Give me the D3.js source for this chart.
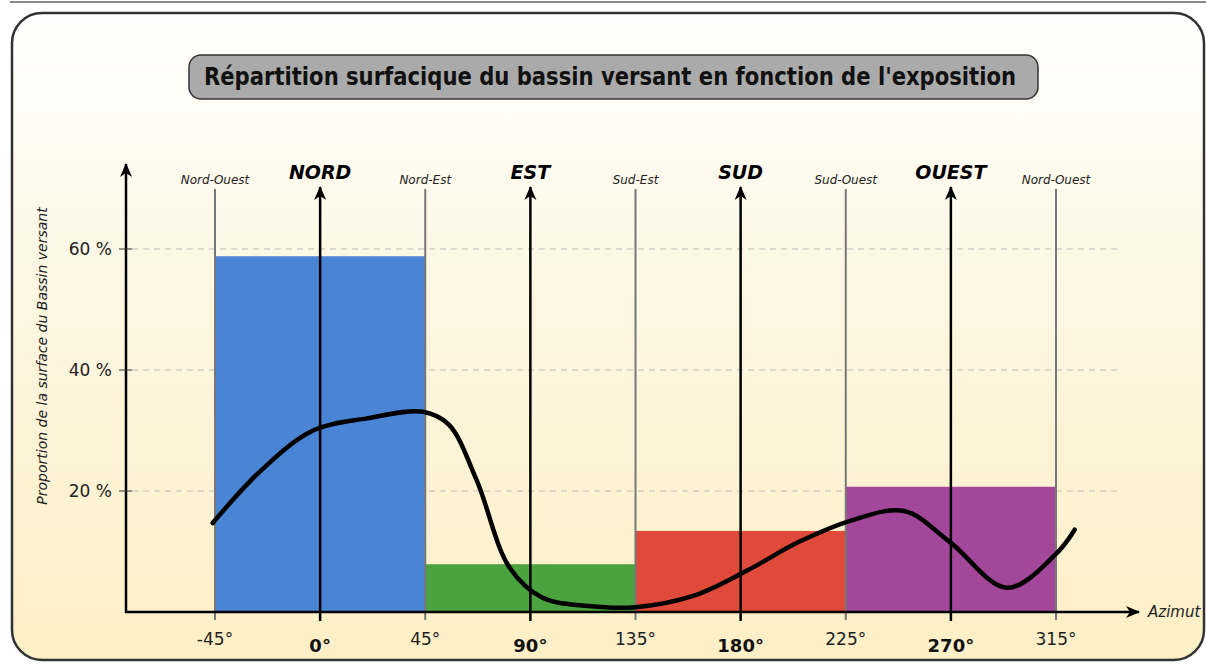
<!DOCTYPE html>
<html>
<head>
<meta charset="utf-8">
<script src="https://cdn.jsdelivr.net/npm/d3@7"></script>
<style>
  body { margin: 0; background: #fff; }
  svg { display: block; }
</style>
</head>
<body>
<div id="chart"></div>
<script>
// exposure sectors (degrees) and share of the basin surface (%)
var sectorStart = [-45, 45, 135, 225];
var sectorEnd = [45, 135, 225, 315];
var sectorValue = [58.8, 7.9, 13.4, 20.7];
var sectorColor = ["#4a84d5", "#4aa33f", "#e04a3b", "#a3479a"];

// cardinal directions (black arrows)
var cardinalAngle = [0, 90, 180, 270];
var cardinalName = ["NORD", "EST", "SUD", "OUEST"];

// intercardinal boundaries (gray lines)
var interAngle = [-45, 45, 135, 225, 315];
var interName = ["Nord-Ouest", "Nord-Est", "Sud-Est", "Sud-Ouest", "Nord-Ouest"];

var yTicks = [20, 40, 60];

// smooth curve
var curveAzimuth = [-46, -25, -3, 20, 44, 55, 67, 81, 95, 115, 135, 160, 183, 205, 228, 250, 269.5, 294, 315, 323];
var curveValue = [14.7, 23.5, 30.0, 32.0, 33.1, 31.0, 21.8, 7.4, 2.4, 1.0, 0.8, 2.7, 6.9, 11.6, 15.2, 16.7, 11.6, 4.0, 9.6, 13.6];

var width = 1206, height = 668;

var svg = d3.select("#chart")
            .append("svg")
            .attr("width", width)
            .attr("height", height);

var defs = svg.append("defs");

var bg = defs.append("linearGradient")
             .attr("id", "bg")
             .attr("x1", 0).attr("y1", 0)
             .attr("x2", 0).attr("y2", 1);
bg.append("stop").attr("offset", "0%").attr("stop-color", "#ffffff");
bg.append("stop").attr("offset", "40%").attr("stop-color", "#fdf7e4");
bg.append("stop").attr("offset", "100%").attr("stop-color", "#fdefc6");

// stealth style arrow head
defs.append("marker")
    .attr("id", "arrow")
    .attr("viewBox", "-14 -7 16 14")
    .attr("markerUnits", "userSpaceOnUse")
    .attr("markerWidth", 16)
    .attr("markerHeight", 14)
    .attr("refX", 0)
    .attr("refY", 0)
    .attr("orient", "auto")
    .append("path")
    .attr("d", "M1,0 L-13,-6 L-9,0 L-13,6 Z")
    .attr("fill", "#000");

// top rule and outer frame
svg.append("line")
   .attr("x1", 10).attr("x2", width)
   .attr("y1", 2).attr("y2", 2)
   .attr("stroke", "#8a8a8a")
   .attr("stroke-width", 2);

svg.append("rect")
   .attr("x", 12).attr("y", 13)
   .attr("width", 1192).attr("height", 647)
   .attr("rx", 30).attr("ry", 30)
   .attr("fill", "url(#bg)")
   .attr("stroke", "#333")
   .attr("stroke-width", 2.5);

// title box
svg.append("rect")
   .attr("x", 189).attr("y", 55)
   .attr("width", 849).attr("height", 44)
   .attr("rx", 12).attr("ry", 12)
   .attr("fill", "#aaaaaa")
   .attr("stroke", "#333")
   .attr("stroke-width", 1.5);

svg.append("text")
   .attr("x", 610).attr("y", 85)
   .attr("text-anchor", "middle")
   .attr("font-family", "DejaVu Sans, sans-serif")
   .attr("font-weight", "bold")
   .attr("font-size", 24)
   .attr("textLength", 812)
   .attr("lengthAdjust", "spacingAndGlyphs")
   .attr("fill", "#111")
   .text("Répartition surfacique du bassin versant en fonction de l'exposition");

// scales
var x = d3.scaleLinear().domain([-45, 315]).range([215, 1056]);
var y = d3.scaleLinear().domain([0, 60]).range([612, 249]);
var x0 = 126;

// dashed grid
svg.selectAll(".grid")
   .data(yTicks)
   .enter()
   .append("line")
   .attr("class", "grid")
   .attr("x1", x0 + 6).attr("x2", 1120)
   .attr("y1", d => y(d)).attr("y2", d => y(d))
   .attr("stroke", "#bdbdbd")
   .attr("stroke-width", 1)
   .attr("stroke-dasharray", "6,5");

// bars
svg.selectAll(".bars")
   .data(sectorValue)
   .enter()
   .append("rect")
   .attr("class", "bars")
   .attr("x", (d, i) => x(sectorStart[i]))
   .attr("width", (d, i) => x(sectorEnd[i]) - x(sectorStart[i]))
   .attr("y", d => y(d))
   .attr("height", d => y(0) - y(d))
   .attr("fill", (d, i) => sectorColor[i]);

// gray intercardinal lines + labels
svg.selectAll(".inter")
   .data(interAngle)
   .enter()
   .append("line")
   .attr("class", "inter")
   .attr("x1", d => x(d)).attr("x2", d => x(d))
   .attr("y1", 620).attr("y2", 189)
   .attr("stroke", "#777")
   .attr("stroke-width", 2);

svg.selectAll(".interLabel")
   .data(interName)
   .enter()
   .append("text")
   .attr("class", "interLabel")
   .attr("x", (d, i) => x(interAngle[i]))
   .attr("y", 184)
   .attr("text-anchor", "middle")
   .attr("font-family", "DejaVu Sans, sans-serif")
   .attr("font-style", "italic")
   .attr("font-size", 12)
   .attr("fill", "#222")
   .text(d => d);

svg.selectAll(".interTick")
   .data(interAngle)
   .enter()
   .append("text")
   .attr("class", "interTick")
   .attr("x", d => x(d))
   .attr("y", 645)
   .attr("text-anchor", "middle")
   .attr("font-family", "DejaVu Sans, sans-serif")
   .attr("font-size", 17)
   .attr("fill", "#222")
   .text(d => d + "°");

// black cardinal arrows + labels
svg.selectAll(".card")
   .data(cardinalAngle)
   .enter()
   .append("line")
   .attr("class", "card")
   .attr("x1", d => x(d)).attr("x2", d => x(d))
   .attr("y1", 621).attr("y2", 187)
   .attr("stroke", "#000")
   .attr("stroke-width", 2.5)
   .attr("marker-end", "url(#arrow)");

svg.selectAll(".cardLabel")
   .data(cardinalName)
   .enter()
   .append("text")
   .attr("class", "cardLabel")
   .attr("x", (d, i) => x(cardinalAngle[i]))
   .attr("y", 179)
   .attr("text-anchor", "middle")
   .attr("font-family", "DejaVu Sans, sans-serif")
   .attr("font-style", "italic")
   .attr("font-weight", "bold")
   .attr("font-size", 19)
   .attr("fill", "#000")
   .text(d => d);

svg.selectAll(".cardTick")
   .data(cardinalAngle)
   .enter()
   .append("text")
   .attr("class", "cardTick")
   .attr("x", d => x(d))
   .attr("y", 652)
   .attr("text-anchor", "middle")
   .attr("font-family", "DejaVu Sans, sans-serif")
   .attr("font-weight", "bold")
   .attr("font-size", 18)
   .attr("fill", "#111")
   .text(d => d + "°");

// axes
svg.append("line")
   .attr("x1", x0).attr("x2", x0)
   .attr("y1", y(0) + 1).attr("y2", 164)
   .attr("stroke", "#000")
   .attr("stroke-width", 2.5)
   .attr("marker-end", "url(#arrow)");

svg.append("line")
   .attr("x1", x0 - 1).attr("x2", 1139)
   .attr("y1", y(0)).attr("y2", y(0))
   .attr("stroke", "#000")
   .attr("stroke-width", 2.5)
   .attr("marker-end", "url(#arrow)");

svg.selectAll(".ytick")
   .data(yTicks)
   .enter()
   .append("line")
   .attr("class", "ytick")
   .attr("x1", x0 - 7).attr("x2", x0 + 6)
   .attr("y1", d => y(d)).attr("y2", d => y(d))
   .attr("stroke", "#333")
   .attr("stroke-width", 1);

svg.selectAll(".ylabel")
   .data(yTicks)
   .enter()
   .append("text")
   .attr("class", "ylabel")
   .attr("x", 112)
   .attr("y", d => y(d) + 6)
   .attr("text-anchor", "end")
   .attr("font-family", "DejaVu Sans, sans-serif")
   .attr("font-size", 17)
   .attr("fill", "#222")
   .text(d => d + " %");

svg.append("text")
   .attr("transform", "translate(47,356)rotate(-90)")
   .attr("text-anchor", "middle")
   .attr("font-family", "DejaVu Sans, sans-serif")
   .attr("font-style", "italic")
   .attr("font-size", 14)
   .attr("fill", "#222")
   .text("Proportion de la surface du Bassin versant");

svg.append("text")
   .attr("x", 1148).attr("y", 617)
   .attr("font-family", "DejaVu Sans, sans-serif")
   .attr("font-style", "italic")
   .attr("font-size", 15)
   .attr("fill", "#222")
   .text("Azimut");

// curve on top
var line = d3.line()
             .x(d => x(d[0]))
             .y(d => y(d[1]))
             .curve(d3.curveCatmullRom.alpha(0.5));

svg.append("path")
   .datum(curveAzimuth.map((a, i) => [a, curveValue[i]]))
   .attr("d", line)
   .attr("fill", "none")
   .attr("stroke", "#000")
   .attr("stroke-width", 4.5)
   .attr("stroke-linecap", "round");
</script>
</body>
</html>
